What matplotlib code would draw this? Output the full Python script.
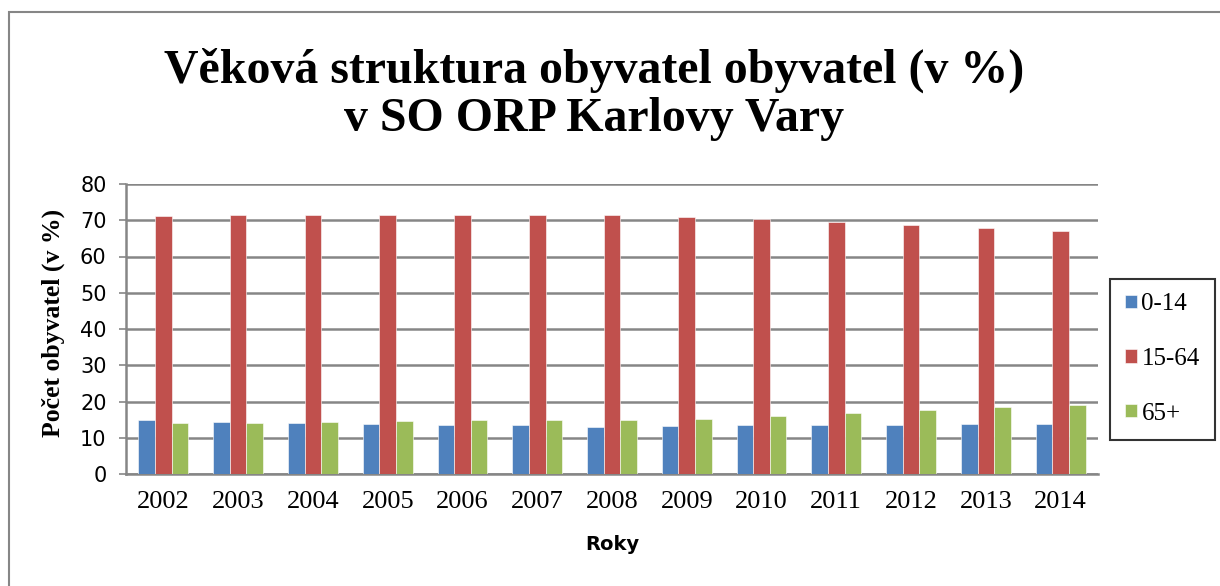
import matplotlib.pyplot as plt
import numpy as np
from matplotlib.patches import Rectangle

years = ['2002', '2003', '2004', '2005', '2006', '2007', '2008',
         '2009', '2010', '2011', '2012', '2013', '2014']
age_0_14 = [14.8, 14.4, 14.0, 13.8, 13.5, 13.4, 13.1, 13.3, 13.4, 13.5, 13.6, 13.8, 13.8]
age_15_64 = [71.1, 71.4, 71.4, 71.4, 71.4, 71.5, 71.5, 71.0, 70.4, 69.5, 68.7, 67.8, 67.0]
age_65 = [14.0, 14.1, 14.4, 14.7, 14.9, 15.0, 14.9, 15.2, 16.1, 16.9, 17.6, 18.5, 19.1]
series_names = ['0-14', '15-64', '65+']
colors = ['#4F81BD', '#C0504D', '#9BBB59']

fig = plt.figure(figsize=(12.2, 5.86), dpi=100)
W, H = 1220, 586

# outer chart border (left/top visible, rest cropped)
fig.patches.append(Rectangle((9 / W, -0.1), 1.2, 1 - 12 / H + 0.1, transform=fig.transFigure,
                             fill=False, edgecolor='#868686', linewidth=1.5))

ax = fig.add_axes([126 / W, 1 - 474 / H, (1098 - 126) / W, (474 - 184) / H])

x = np.arange(len(years))
w = 0.222
data = [age_0_14, age_15_64, age_65]
bars = []
for i, (vals, c) in enumerate(zip(data, colors)):
    b = ax.bar(x + (i - 1) * w, vals, w, color=c, edgecolor='white', linewidth=0.4,
               zorder=3, label=series_names[i])
    bars.append(b)

ax.set_xlim(-0.5, len(years) - 0.5)
ax.set_ylim(0, 80)
ax.set_yticks(range(0, 81, 10))
ax.yaxis.grid(True, color='#868686', linewidth=1.8, zorder=0)
ax.set_xticks(x)
ax.set_xticklabels(years, fontfamily='Liberation Serif', fontsize=19)
ax.tick_params(axis='x', length=0, pad=12)
ax.tick_params(axis='y', length=5, color='#868686', width=1.2, labelsize=15, pad=9)
for lbl in ax.get_yticklabels():
    lbl.set_fontfamily('DejaVu Sans')
for s in ['top', 'right']:
    ax.spines[s].set_visible(False)
for s in ['left', 'bottom']:
    ax.spines[s].set_color('#868686')
    ax.spines[s].set_linewidth(1.8)

fig.text(53 / W, 1 - 323 / H, 'Počet obyvatel (v %)', rotation=90, ha='center', va='center',
         fontfamily='Liberation Serif', fontweight='bold', fontsize=18.5)
ax.set_xlabel('Roky', fontfamily='DejaVu Sans', fontweight='bold', fontsize=14, labelpad=16)

fig.text(594 / W, 1 - 83 / H, 'Věková struktura obyvatel obyvatel (v %)',
         ha='center', va='baseline', fontfamily='Liberation Serif', fontweight='bold', fontsize=34.5)
fig.text(594 / W, 1 - 131 / H, 'v SO ORP Karlovy Vary',
         ha='center', va='baseline', fontfamily='Liberation Serif', fontweight='bold', fontsize=34.5)

leg = fig.legend(handles=bars, labels=series_names, loc='center',
                 bbox_to_anchor=((1110 + 1215) / 2 / W, 1 - 359 / H),
                 prop={'family': 'Liberation Serif', 'size': 18},
                 frameon=True, fancybox=False, labelspacing=1.3,
                 handlelength=0.45, handleheight=0.45, handletextpad=0.2,
                 borderpad=0.6, borderaxespad=0)
leg.get_frame().set_edgecolor('black')
leg.get_frame().set_linewidth(1.5)

fig.savefig('out.png', dpi=100)
